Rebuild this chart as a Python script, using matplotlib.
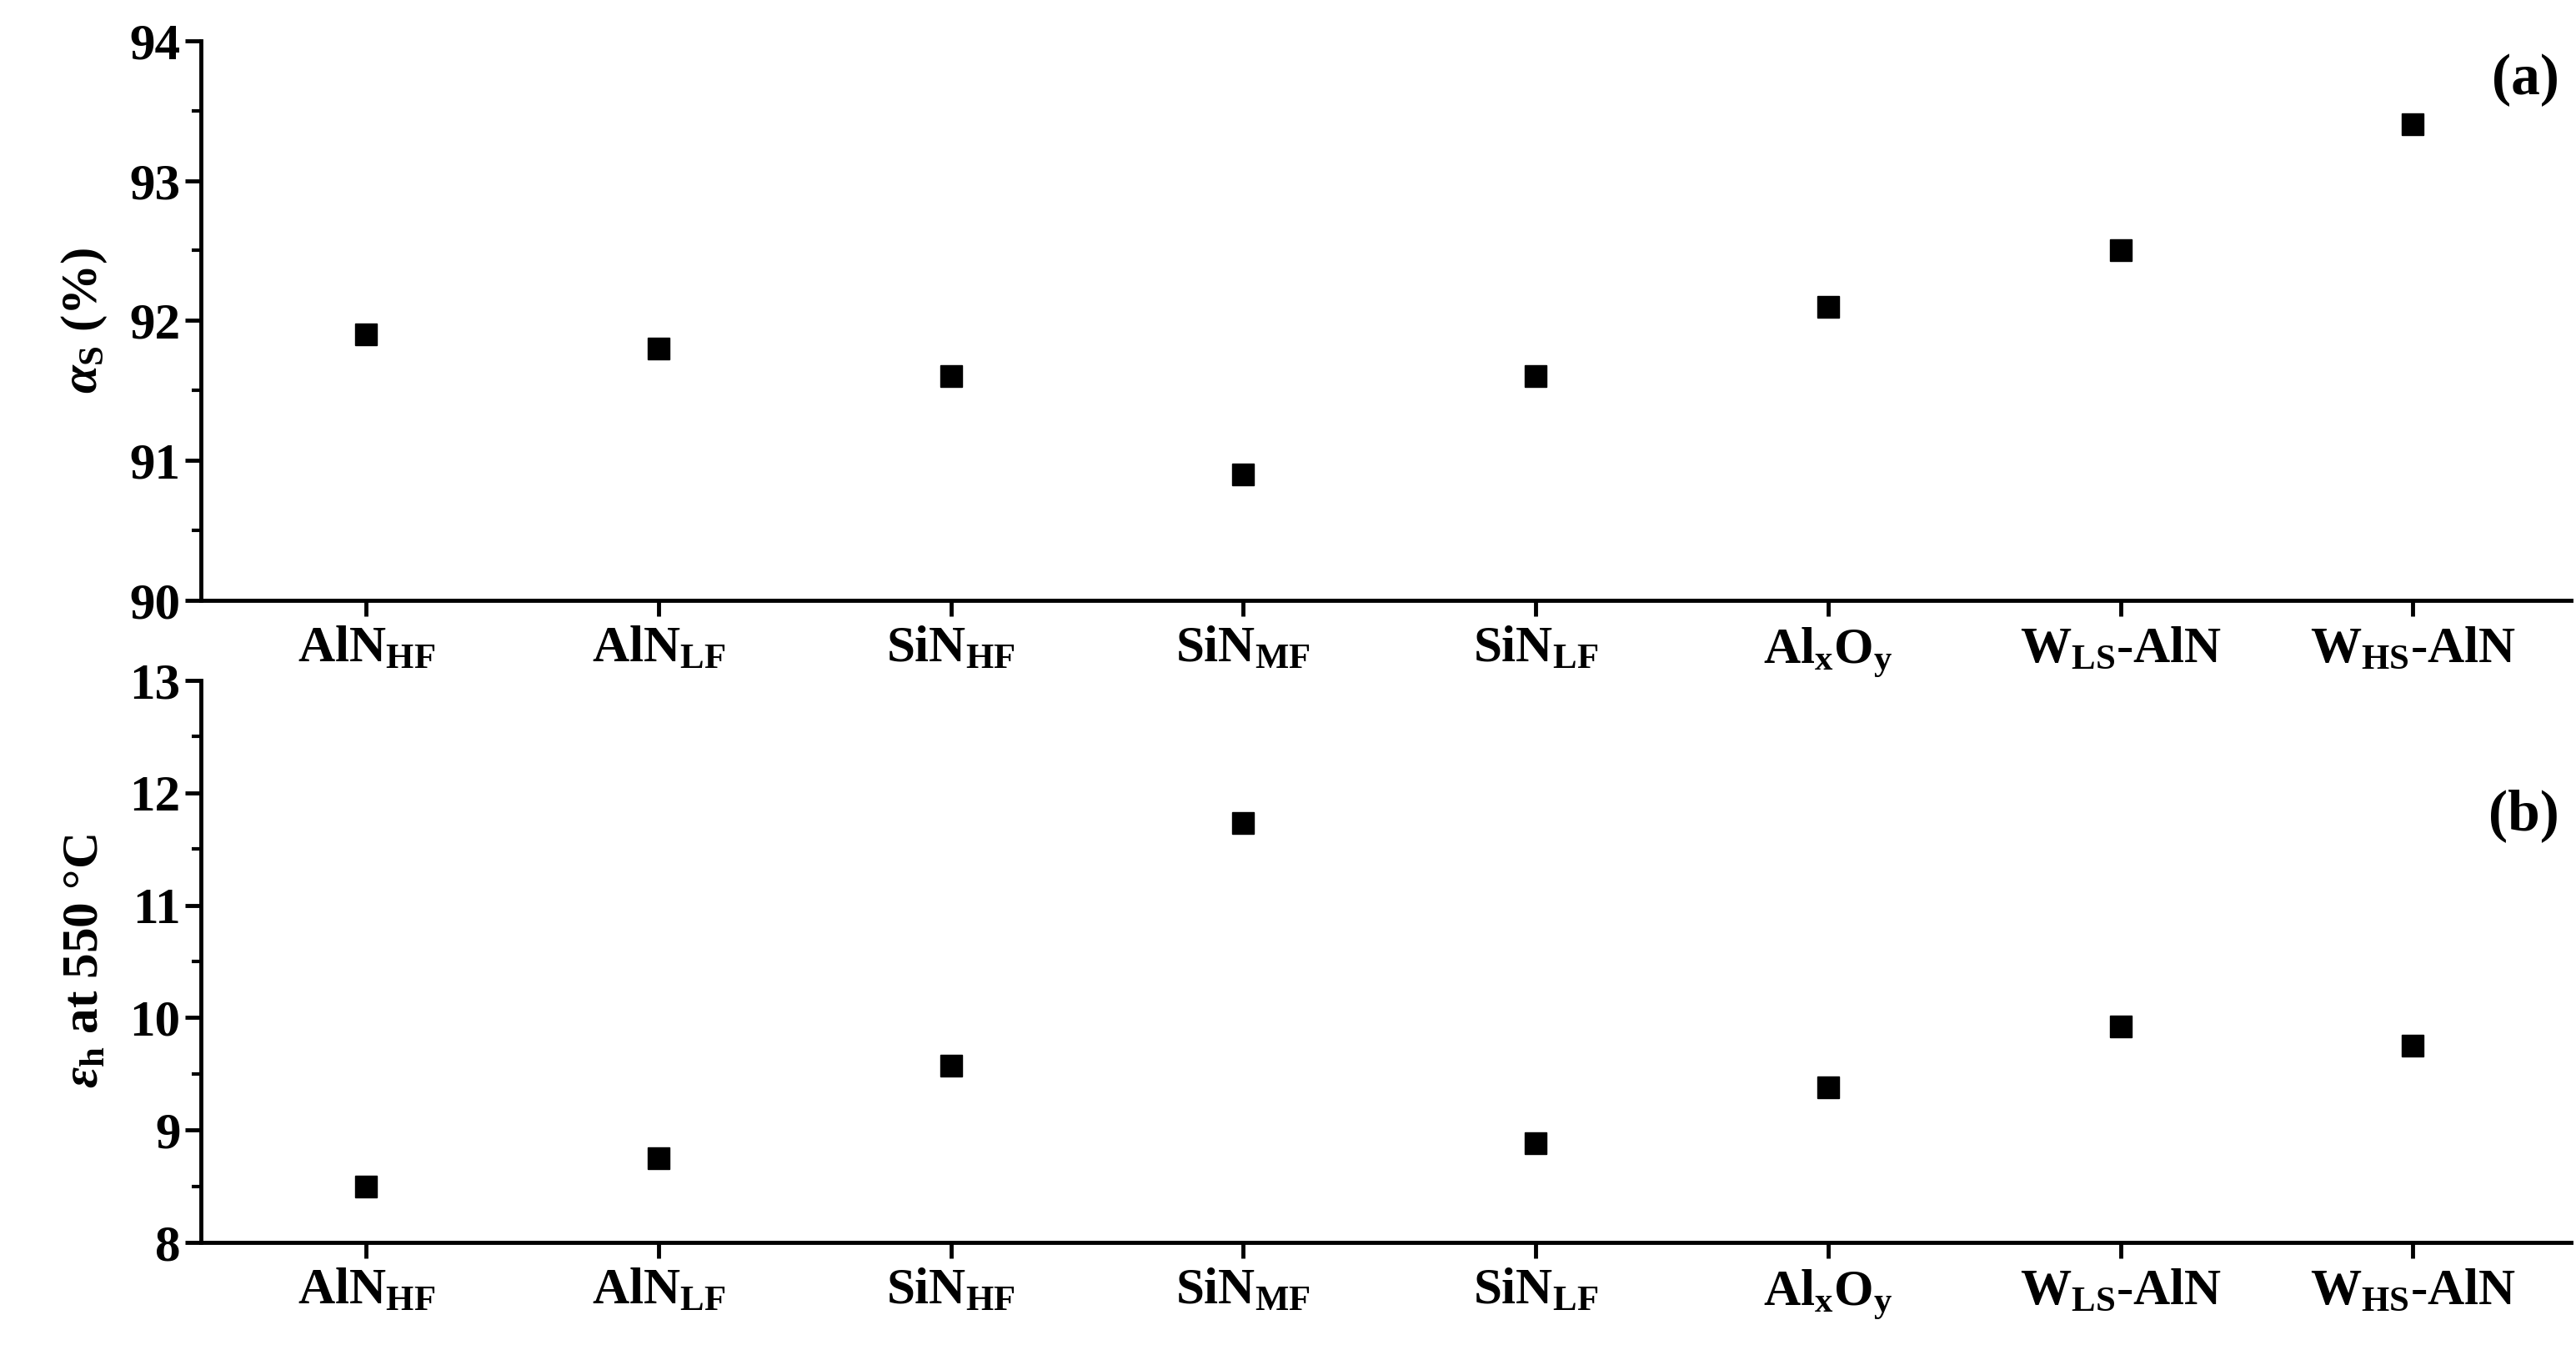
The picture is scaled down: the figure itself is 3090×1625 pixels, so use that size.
import matplotlib
matplotlib.use("Agg")
import matplotlib.pyplot as plt
from matplotlib.ticker import MultipleLocator

categories = [r"AlN$_{\mathrm{HF}}$", r"AlN$_{\mathrm{LF}}$", r"SiN$_{\mathrm{HF}}$", r"SiN$_{\mathrm{MF}}$",
              r"SiN$_{\mathrm{LF}}$", r"Al$_{\mathrm{x}}$O$_{\mathrm{y}}$", r"W$_{\mathrm{LS}}$-AlN", r"W$_{\mathrm{HS}}$-AlN"]
alpha_s = [91.9, 91.8, 91.6, 90.9, 91.6, 92.1, 92.5, 93.4]
eps_h = [8.5, 8.75, 9.57, 11.73, 8.88, 9.38, 9.92, 9.75]

plt.rcParams['font.family'] = ['Liberation Serif']
plt.rcParams['font.weight'] = 'bold'
plt.rcParams['mathtext.fontset'] = 'custom'
plt.rcParams['mathtext.rm'] = 'Liberation Serif:bold'
plt.rcParams['mathtext.bf'] = 'Liberation Serif:bold'
plt.rcParams['mathtext.it'] = 'Liberation Serif:italic'

fig = plt.figure(figsize=(30.9, 16.25), dpi=100)
ax1 = fig.add_axes([0.078, 0.557, 0.92, 0.413])
ax2 = fig.add_axes([0.078, 0.083, 0.92, 0.415])

x = list(range(len(categories)))
for ax, data, ylim, lab, tag, tagy in [
        (ax1, alpha_s, (90, 94), r"$\alpha_{\mathrm{S}}$ (%)", "(a)", 0.93),
        (ax2, eps_h, (8, 13), r"$\epsilon_{\mathrm{h}}$ at 550 °C", "(b)", 0.76)]:
    ax.plot(x, data, 's', color='black', markersize=19, linestyle='none')
    ax.set_xlim(-0.565, 7.54)
    ax.set_ylim(*ylim)
    ax.set_xticks(x)
    ax.set_xticklabels(categories)
    ax.yaxis.set_major_locator(MultipleLocator(1))
    ax.yaxis.set_minor_locator(MultipleLocator(0.5))
    for s in ['top', 'right']:
        ax.spines[s].set_visible(False)
    for s in ['left', 'bottom']:
        ax.spines[s].set_linewidth(3.5)
    ax.tick_params(axis='both', which='major', direction='out', length=14, width=3.5, labelsize=44)
    ax.tick_params(axis='y', which='minor', direction='out', length=8, width=3)
    ax.tick_params(axis='x', pad=8)
    ax.set_ylabel(lab, fontsize=44, fontweight='bold', labelpad=18)
    ax.text(0.995, tagy, tag, transform=ax.transAxes, ha='right', va='center', fontsize=50, fontweight='bold')

fig.savefig("out.png", dpi=100)
